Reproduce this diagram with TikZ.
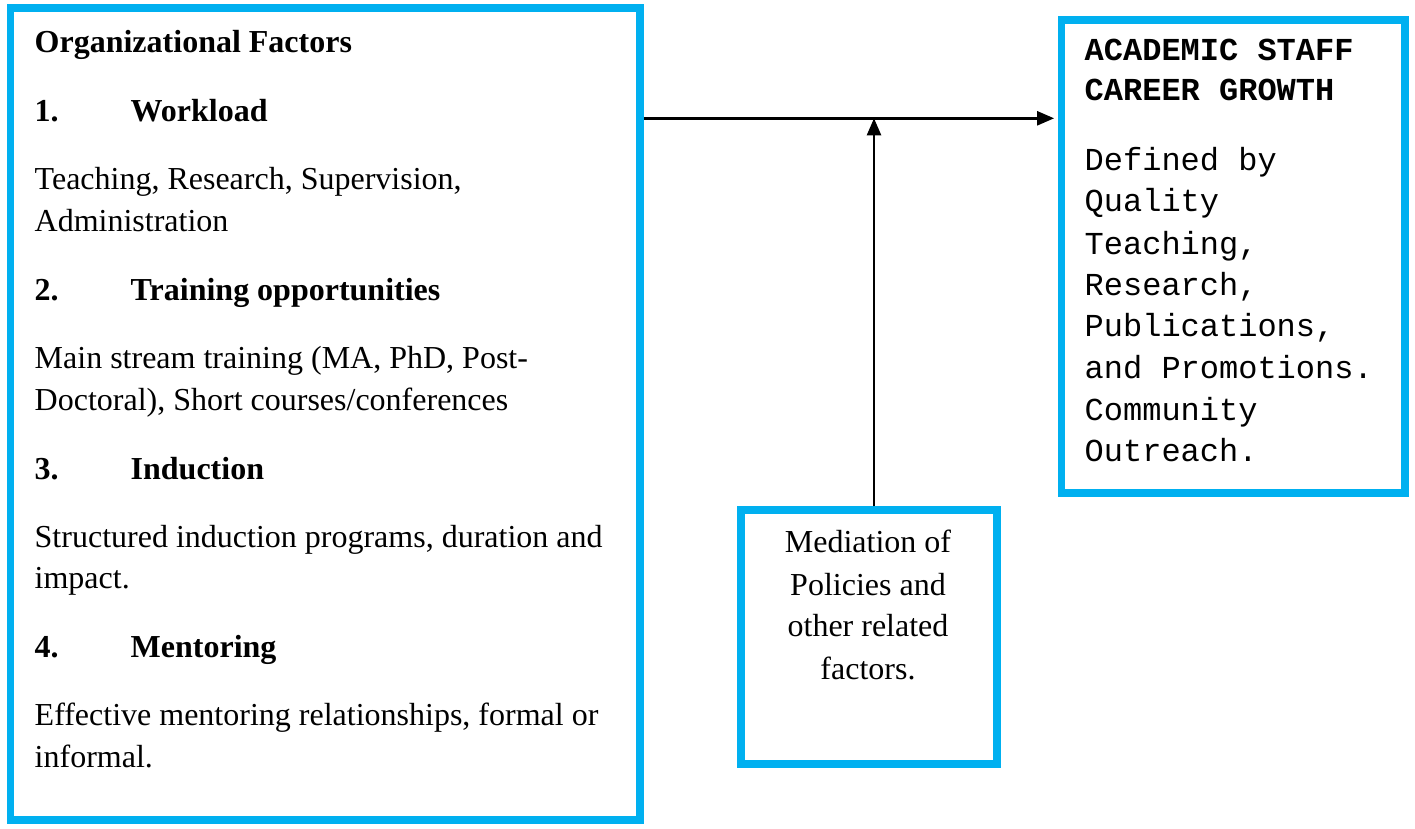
\documentclass[tikz,border=0pt]{standalone}
\usepackage{fontspec}
\setmainfont{Liberation Serif}
\setmonofont{Liberation Mono}
\usetikzlibrary{arrows.meta}
\definecolor{boxblue}{RGB}{0,176,240}
\begin{document}
\begin{tikzpicture}[x=1pt,y=-1pt,
  box/.style={draw=boxblue, line width=7.5pt, inner sep=0pt, fill=white},
  txt/.style={font=\fontsize{32}{40}\selectfont, inner sep=0pt, anchor=base west},
  hd/.style={txt, font=\fontsize{32}{40}\selectfont\bfseries},
  mono/.style={txt, font=\fontsize{32}{40}\selectfont\ttfamily},
  monob/.style={txt, font=\fontsize{32}{40}\selectfont\ttfamily\bfseries},
  mid/.style={txt, anchor=base},
  conn/.style={line width=2.4pt, -{Triangle[length=17pt,width=14pt]}}]
\useasboundingbox (0,0) rectangle (1415,828);
% boxes
\node[box, minimum width=629.5pt, minimum height=812pt] (L) at (325.25,414) {};
\node[box, minimum width=343.4pt, minimum height=473pt] (R) at (1233.3,256.5) {};
\node[box, minimum width=256pt, minimum height=254pt] (M) at (869,637) {};
% connectors
\coordinate (J) at (874,118.3);
\draw[conn] (L.east |- J) -- ([xshift=-3.75pt]R.west |- J);
\draw[conn] (M.north -| J) -- (J);
% left box text
\node[hd] (t0) at (34.5,52) {Organizational Factors};
\node[hd] (n1) at (34.5,121) {1.};
\node[hd] (h1) at (130.5,121) {Workload};
\node[txt] (p1a) at (34.5,189) {Teaching, Research, Supervision,};
\node[txt] (p1b) at (34.5,231) {Administration};
\node[hd] (n2) at (34.5,300) {2.};
\node[hd] (h2) at (130.5,300) {Training opportunities};
\node[txt] (p2a) at (34.5,368) {Main stream training (MA, PhD, Post-};
\node[txt] (p2b) at (34.5,410) {Doctoral), Short courses/conferences};
\node[hd] (n3) at (34.5,479) {3.};
\node[hd] (h3) at (130.5,479) {Induction};
\node[txt] (p3a) at (34.5,547) {Structured induction programs, duration and};
\node[txt] (p3b) at (34.5,588) {impact.};
\node[hd] (n4) at (34.5,657) {4.};
\node[hd] (h4) at (130.5,657) {Mentoring};
\node[txt] (p4a) at (34.5,725) {Effective mentoring relationships, formal or};
\node[txt] (p4b) at (34.5,767) {informal.};
% right box text
\node[monob] (r1) at (1084.5,60) {ACADEMIC STAFF};
\node[monob] (r2) at (1084.5,100.7) {CAREER GROWTH};
\node[mono] (r3) at (1084.5,170) {Defined by};
\node[mono] (r4) at (1084.5,211.7) {Quality};
\node[mono] (r5) at (1084.5,254) {Teaching,};
\node[mono] (r6) at (1084.5,295) {Research,};
\node[mono] (r7) at (1084.5,336.7) {Publications,};
\node[mono] (r8) at (1084.5,378.3) {and Promotions.};
\node[mono] (r9) at (1084.5,420) {Community};
\node[mono] (r10) at (1084.5,461.7) {Outreach.};
% mediation box text
\node[mid] (m1) at (868,552.7) {Mediation of};
\node[mid] (m2) at (868,595) {Policies and};
\node[mid] (m3) at (868,636.7) {other related};
\node[mid] (m4) at (868,679.3) {factors.};
\end{tikzpicture}
\end{document}
